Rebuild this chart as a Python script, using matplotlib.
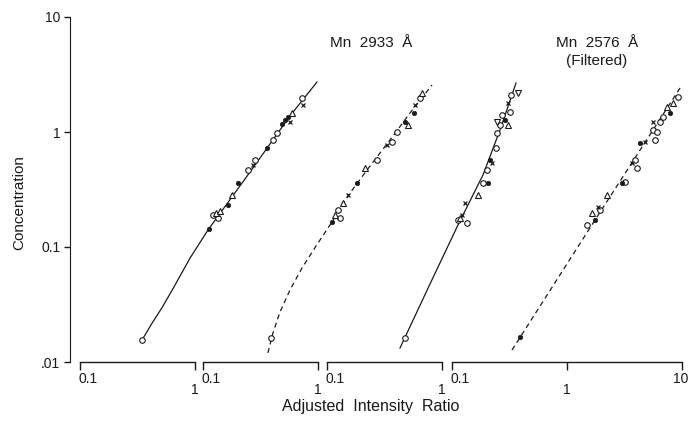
import matplotlib.pyplot as plt
from matplotlib import rcParams

rcParams['font.family'] = ['Liberation Sans', 'DejaVu Sans']

# x-axis segments (adjusted intensity ratio), one per curve
seg_lo = [0.1, 0.1, 0.1, 0.1]
seg_hi = [1, 1, 1, 10]
seg_ticks = [[0.1, 1], [0.1, 1], [0.1, 1], [0.1, 1, 10]]
seg_labels = [["0.1", "1"], ["0.1", "1"], ["0.1", "1"], ["0.1", "1", "10"]]

y_ticks = [0.01, 0.1, 1, 10]
y_labels = [".01", "0.1", "1", "10"]

# curve 1 - Mn 2933 (solid)
c1_line_x = [0.346, 0.42, 0.52, 0.64, 0.906, 1.30, 3.01, 6.70, 11.5]
c1_line_y = [0.0155, 0.0215, 0.0300, 0.0430, 0.0802, 0.141, 0.449, 1.38, 2.72]
c1_open = [(0.346, 0.0155), (1.585, 0.1787), (1.434, 0.1898), (2.890, 0.4672), (3.325, 0.5708),
           (4.768, 0.852), (5.164, 0.980), (8.518, 1.976)]
c1_fill = [(1.323, 0.1434), (1.936, 0.2318), (2.365, 0.3602), (4.228, 0.7260), (5.708, 1.174),
           (6.061, 1.272), (6.436, 1.350)]
c1_tri = [(1.522, 0.1976), (1.650, 0.2056), (2.097, 0.2833), (6.974, 1.463)]
c1_cross = [(3.194, 0.5164), (8.70, 1.717), (6.70, 1.222)]

# curve 2 - Mn 2933 (dashed)
c2_line_x = [0.367, 0.406, 0.467, 0.571, 0.726, 0.961, 1.323, 1.898, 2.833, 4.228, 6.310, 9.80]
c2_line_y = [0.0120, 0.0179, 0.0272, 0.0423, 0.0657, 0.1020, 0.1650, 0.2948, 0.5061, 0.852, 1.463, 2.563]
c2_open = [(0.3903, 0.01617), (1.492, 0.2098), (1.553, 0.1787), (3.258, 0.5708), (4.401, 0.8185),
           (4.864, 1.0), (7.709, 1.976)]
c2_fill = [(1.323, 0.1650), (2.184, 0.3602), (5.708, 1.222), (6.836, 1.463)]
c2_tri = [(1.405, 0.1898), (1.650, 0.2414), (2.563, 0.4864), (6.061, 1.150), (8.02, 2.184)]
c2_cross = [(1.823, 0.2833), (3.981, 0.7709), (6.974, 1.717)]

# curve 3 - Mn 2576 filtered (solid)
c3_line_x = [0.4313, 0.7863, 1.377, 2.272, 3.194, 4.401]
c3_line_y = [0.01323, 0.04769, 0.1554, 0.4228, 1.041, 2.668]
c3_open = [(0.4768, 0.01617), (1.377, 0.1717), (1.650, 0.1617), (2.272, 0.3602), (2.462, 0.4672),
           (2.949, 0.7260), (3.008, 0.980), (3.194, 1.150), (3.325, 1.405), (3.903, 1.492), (3.981, 2.097)]
c3_fill = [(2.512, 0.3602), (2.614, 0.5708), (3.530, 1.272)]
c3_tri = [(2.056, 0.2833), (1.434, 0.1787), (3.750, 1.150)]
c3_vtri = [(3.008, 1.222), (4.580, 2.184)]
c3_cross = [(1.492, 0.1898), (1.585, 0.2414), (2.722, 0.5373), (3.750, 1.787)]

# curve 4 - Mn 2576 filtered (dashed)
c4_line_x = [0.3325, 1.752, 10.0]
c4_line_y = [0.01272, 0.1717, 2.563]
c4_open = [(1.492, 0.1554), (1.936, 0.2098), (3.194, 0.3673), (3.903, 0.5708), (4.061, 0.4864),
           (5.596, 1.041), (6.061, 1.0), (5.825, 0.852), (6.436, 1.222), (6.836, 1.350), (9.231, 2.015)]
c4_fill = [(0.3903, 0.01650), (1.752, 0.1717), (3.008, 0.3602), (7.863, 1.463), (4.313, 0.8023)]
c4_tri = [(1.650, 0.1976), (2.227, 0.2833), (7.405, 1.650), (8.351, 1.787)]
c4_cross = [(1.860, 0.2228), (3.674, 0.5373), (4.768, 0.8185), (5.596, 1.222)]

curves = [
    (c1_line_x, c1_line_y, '-', {'o': c1_open, 'f': c1_fill, '^': c1_tri, 'x': c1_cross}),
    (c2_line_x, c2_line_y, '--', {'o': c2_open, 'f': c2_fill, '^': c2_tri, 'x': c2_cross}),
    (c3_line_x, c3_line_y, '-', {'o': c3_open, 'f': c3_fill, '^': c3_tri, 'v': c3_vtri, 'x': c3_cross}),
    (c4_line_x, c4_line_y, '--', {'o': c4_open, 'f': c4_fill, '^': c4_tri, 'x': c4_cross}),
]

W, H = 691, 422
fig = plt.figure(figsize=(W / 100, H / 100), dpi=100)

seg_left = [80, 203, 327, 452]
seg_width = [115, 115, 115, 230]
y_bot, y_top = 362, 17
ink = '#1a1a1a'

for i in range(4):
    ax = fig.add_axes([seg_left[i] / W, (H - y_bot) / H, seg_width[i] / W, (y_bot - y_top) / H])
    ax.patch.set_visible(False)
    ax.set_xscale('log')
    ax.set_yscale('log')
    ax.set_xlim(seg_lo[i], seg_hi[i])
    ax.set_ylim(0.01, 10)
    for s in ['top', 'right']:
        ax.spines[s].set_visible(False)
    ax.spines['bottom'].set_color(ink)
    ax.spines['bottom'].set_linewidth(1.0)
    ax.set_xticks(seg_ticks[i])
    ax.set_xticklabels([])
    ax.xaxis.set_minor_locator(plt.NullLocator())
    ax.tick_params(axis='x', direction='out', length=5.5, width=1.0, color=ink)
    for val, lab in zip(seg_ticks[i], seg_labels[i]):
        if val == seg_lo[i]:
            ax.annotate(lab, xy=(val, 0), xycoords=('data', 'axes fraction'), xytext=(-1, -7),
                        textcoords='offset points', ha='left', va='top', fontsize=10, color=ink)
        elif val == 10:
            ax.annotate(lab, xy=(val, 0), xycoords=('data', 'axes fraction'), xytext=(-1, -7.5),
                        textcoords='offset points', ha='center', va='top', fontsize=10, color=ink)
        else:
            ax.annotate(lab, xy=(val, 0), xycoords=('data', 'axes fraction'), xytext=(0, -15),
                        textcoords='offset points', ha='center', va='top', fontsize=10, color=ink)

    if i == 0:
        ax.spines['left'].set_position(('outward', 7.2))
        ax.spines['left'].set_color(ink)
        ax.set_yticks(y_ticks)
        ax.set_yticklabels(y_labels, fontsize=10, color=ink)
        ax.yaxis.set_minor_locator(plt.NullLocator())
        ax.tick_params(axis='y', direction='out', length=4, width=1.0, color=ink, pad=3)
    else:
        ax.spines['left'].set_visible(False)
        ax.set_yticks([])
        ax.yaxis.set_minor_locator(plt.NullLocator())

    lx, ly, ls, pts = curves[i]
    if ls == '--':
        ax.plot(lx, ly, color=ink, lw=0.9, linestyle=(0, (4, 3)), clip_on=False)
    else:
        ax.plot(lx, ly, color=ink, lw=0.9, clip_on=False)
    for kind, p in pts.items():
        px, py = zip(*p)
        if kind == 'o':
            ax.plot(px, py, 'o', ms=4, mfc='white', mec=ink, mew=0.8, clip_on=False)
        elif kind == 'f':
            ax.plot(px, py, 'o', ms=3.2, mfc=ink, mec=ink, mew=0.5, clip_on=False)
        elif kind == '^':
            ax.plot(px, py, '^', ms=3.8, mfc='white', mec=ink, mew=0.8, clip_on=False)
        elif kind == 'v':
            ax.plot(px, py, 'v', ms=3.8, mfc='white', mec=ink, mew=0.8, clip_on=False)
        else:
            ax.plot(px, py, 'x', ms=3.5, mec=ink, mew=0.9, clip_on=False)

fig.text(19 / W, 1 - 203 / H, "Concentration", rotation=90, ha='center', va='center', fontsize=11, color=ink)
fig.text(371 / W, 1 - 406 / H, "Adjusted  Intensity  Ratio", ha='center', va='center', fontsize=11.5, color=ink)
fig.text(371 / W, 1 - 43 / H, "Mn  2933  Å", ha='center', va='center', fontsize=11, color=ink)
fig.text(597 / W, 1 - 43 / H, "Mn  2576  Å", ha='center', va='center', fontsize=11, color=ink)
fig.text(597 / W, 1 - 61 / H, "(Filtered)", ha='center', va='center', fontsize=11, color=ink)

fig.savefig('out.png', dpi=100)
